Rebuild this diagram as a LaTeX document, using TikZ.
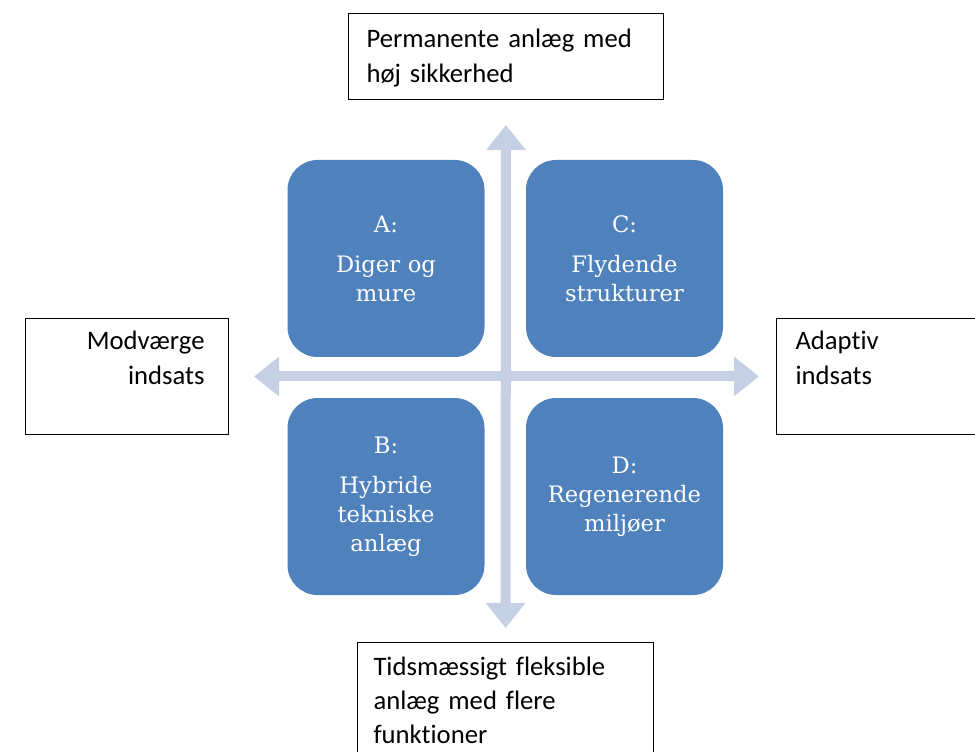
\documentclass[tikz,border=0pt]{standalone}
\usepackage{fontspec}
\setmainfont{Carlito}[Ligatures=NoCommon]
\newfontfamily\quadfont{DejaVu Serif}
\usetikzlibrary{calc, arrows.meta}
\tikzset{>={Triangle[width=28.5pt, length=18.75pt]}}
\definecolor{quadblue}{RGB}{79,129,189}
\definecolor{axisblue}{RGB}{197,208,228}

\begin{document}
\begin{tikzpicture}[x=0.75pt, y=-0.75pt]

\tikzstyle{quad}=[fill=quadblue, rounded corners=22.5pt, minimum width=147.75pt, minimum height=147.75pt, text width=135pt, align=center, text=white, font=\quadfont\fontsize{17}{21.75}\selectfont]
\tikzstyle{label-box}=[draw=black, line width=0.75pt, anchor=north west, inner ysep=0pt, font=\fontsize{20}{26.25}\selectfont]
\tikzstyle{axis-arrow}=[draw=axisblue, line width=7.5pt, <->]

\useasboundingbox (0, 0) rectangle (975, 752);

% outer labels
\node [label-box, inner xsep=13.5pt, text width=209.25pt, align=left, text height=25.75pt, text depth=39.25pt] (out-top) at (348, 12.7) {Permanente anlæg med\\høj sikkerhed};
\node [label-box, inner xsep=18pt, text width=116.25pt, align=right, text height=23.25pt, text depth=63.75pt] (out-left) at (25, 318) {Modværge\\indsats};
\node [label-box, inner xsep=14.25pt, text width=144pt, align=left, text height=23.25pt, text depth=63.75pt] (out-right) at (776, 318) {Adaptiv\\indsats};
\node [label-box, inner xsep=12pt, text width=198pt, align=left, text height=24.75pt, text depth=90pt, font=\fontsize{20}{25.5}\selectfont] (out-bottom) at (357, 642) {Tidsmæssigt fleksible\\anlæg med flere\\funktioner};

% axes
\draw [axis-arrow, shorten <=18.75pt, shorten >=12.75pt] (out-left) -- (out-right);
\draw [axis-arrow, shorten <=18.5pt, shorten >=10.5pt] (out-top) -- (out-bottom);

% quadrants
\node [quad] (quad-a) at (386, 258.5) {A:\\[8.25pt]Diger og\\mure};
\node [quad] (quad-c) at ($(quad-a) + (238.5, 0)$) {C:\\[8.25pt]Flydende\\strukturer};
\node [quad] (quad-b) at ($(quad-a) + (0, 238)$) {B:\\[8.25pt]Hybride\\tekniske\\anlæg};
\node [quad] (quad-d) at ($(quad-c) + (0, 238)$) {D:\\Regenerende\\miljøer};

\end{tikzpicture}
\end{document}
